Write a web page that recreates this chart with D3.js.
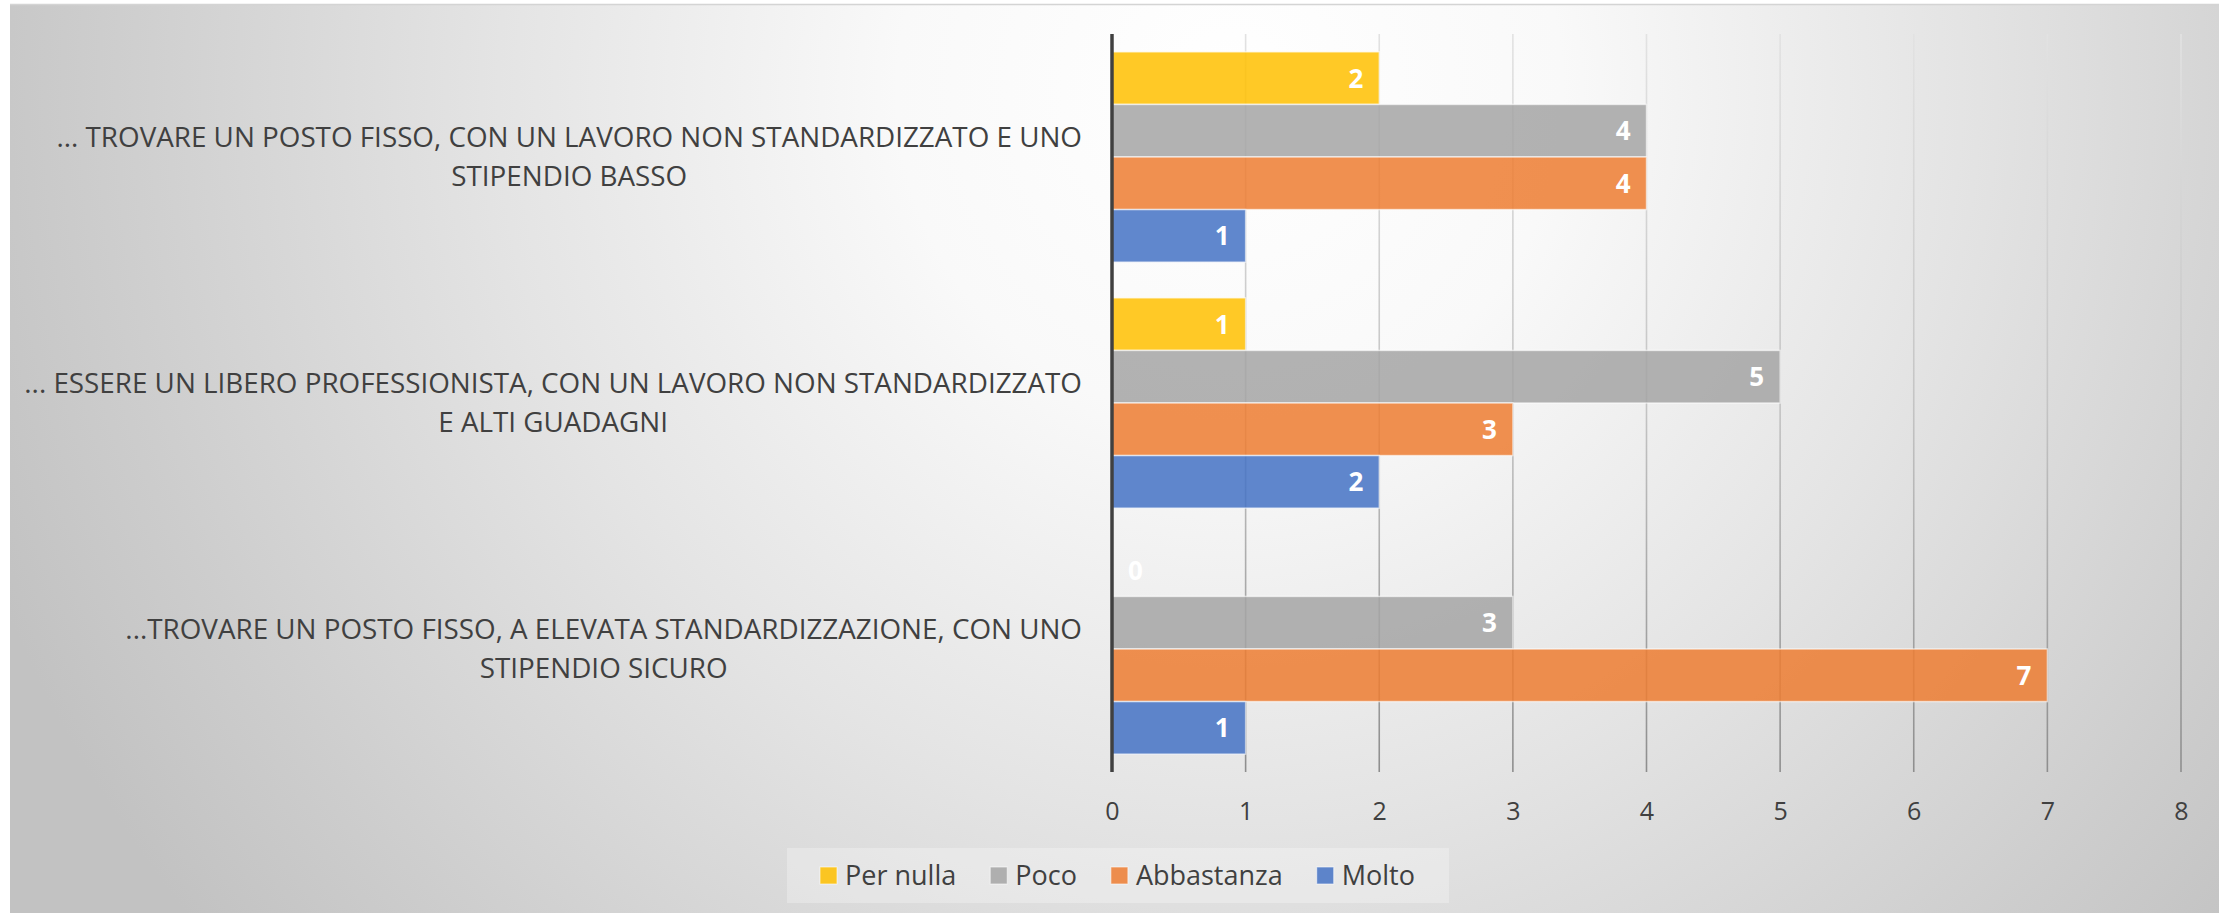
<!DOCTYPE html>
<html><head><meta charset="utf-8">
<script src="https://cdn.jsdelivr.net/npm/d3@7"></script>
<style>html,body{margin:0;padding:0;background:#fff;} svg{display:block;}</style>
</head><body>
<svg id="chart" width="2231" height="913"></svg>
<script>
// ---- data ----
const categories = [
  "... TROVARE UN POSTO FISSO, CON UN LAVORO NON STANDARDIZZATO E UNO\nSTIPENDIO BASSO",
  "... ESSERE UN LIBERO PROFESSIONISTA, CON UN LAVORO NON STANDARDIZZATO\nE ALTI GUADAGNI",
  "...TROVARE UN POSTO FISSO, A ELEVATA STANDARDIZZAZIONE, CON UNO\nSTIPENDIO SICURO"
];
const seriesNames = ["Per nulla", "Poco", "Abbastanza", "Molto"];
const perNulla   = [2, 1, 0];
const poco       = [4, 5, 3];
const abbastanza = [4, 3, 7];
const molto      = [1, 2, 1];
const seriesColors = ["#FFC000", "#A5A5A5", "#ED7D31", "#4472C4"];
const xTicks = [0, 1, 2, 3, 4, 5, 6, 7, 8];

const seriesValues = [perNulla, poco, abbastanza, molto];
const rows = [];
categories.forEach((c, ci) => seriesNames.forEach((s, si) => rows.push({cat: c, ser: s, si, v: seriesValues[si][ci]})));

// ---- layout ----
const W = 2231, H = 913;
const plot = {left: 1112, right: 2181, top: 34, bottom: 772};
const svg = d3.select("#chart");
const defs = svg.append("defs");

const bg = defs.append("radialGradient").attr("id", "bg")
  .attr("gradientUnits", "userSpaceOnUse").attr("cx", 1230).attr("cy", 90).attr("r", 1330);
[[0, "#ffffff"], [0.25, "#f9f9f9"], [0.55, "#e4e4e4"], [0.85, "#cdcdcd"], [1, "#c2c2c2"]]
  .forEach(([o, c]) => bg.append("stop").attr("offset", o).attr("stop-color", c));

const gg = defs.append("linearGradient").attr("id", "grid")
  .attr("gradientUnits", "userSpaceOnUse").attr("x1", 0).attr("x2", 0).attr("y1", plot.top).attr("y2", plot.bottom);
[[0, "#e2e2e2"], [0.5, "#c4c4c4"], [1, "#8e8e8e"]]
  .forEach(([o, c]) => gg.append("stop").attr("offset", o).attr("stop-color", c));

svg.append("rect").attr("x", 10).attr("y", 4).attr("width", 2209).attr("height", H - 4).attr("fill", "url(#bg)");
svg.append("line").attr("x1", 10).attr("x2", 2219).attr("y1", 4.5).attr("y2", 4.5).attr("stroke", "#d4d4d4").attr("stroke-width", 1.5);

const x = d3.scaleLinear().domain([0, 8]).range([plot.left, plot.right]);
const y0 = d3.scaleBand().domain(categories).range([plot.top, plot.bottom]);
const y1 = d3.scaleBand().domain(seriesNames).range([0, y0.bandwidth()]).paddingOuter(0.34).paddingInner(0);
const color = d3.scaleOrdinal().domain(seriesNames).range(seriesColors);

// gridlines
svg.append("g").selectAll("line").data(xTicks.filter(d => d > 0)).join("line")
  .attr("x1", d => x(d)).attr("x2", d => x(d)).attr("y1", plot.top).attr("y2", plot.bottom)
  .attr("stroke", "url(#grid)").attr("stroke-width", 1.6);

// bars
svg.append("g").selectAll("rect").data(rows).join("rect")
  .attr("x", x(0)).attr("y", d => y0(d.cat) + y1(d.ser))
  .attr("width", d => x(d.v) - x(0)).attr("height", y1.bandwidth())
  .attr("fill", d => color(d.ser)).attr("fill-opacity", 0.85)
  .attr("stroke", "#ffffff").attr("stroke-opacity", 0.6).attr("stroke-width", 1.5);

// data labels
svg.append("g").selectAll("text").data(rows).join("text")
  .attr("x", d => d.v > 0 ? x(d.v) - 16 : x(0) + 16)
  .attr("y", d => y0(d.cat) + y1(d.ser) + y1.bandwidth() / 2)
  .attr("dy", "0.36em")
  .attr("text-anchor", d => d.v > 0 ? "end" : "start")
  .attr("font-family", "'Open Sans', sans-serif").attr("font-weight", 700).attr("font-size", 26)
  .attr("fill", "#ffffff").text(d => d.v);

// value axis line
svg.append("line").attr("x1", x(0)).attr("x2", x(0)).attr("y1", plot.top).attr("y2", plot.bottom)
  .attr("stroke", "#404040").attr("stroke-width", 3.5);

// x axis labels
const xAxis = svg.append("g").attr("transform", `translate(0,${plot.bottom})`)
  .call(d3.axisBottom(x).tickValues(xTicks).tickSize(0).tickPadding(30).tickFormat(d3.format("d")));
xAxis.select(".domain").remove();
xAxis.selectAll("text").attr("font-family", "'Open Sans', sans-serif").attr("font-size", 25).attr("fill", "#404040");

// category labels (centered block, right-aligned to the axis gap)
const catFont = 27.8, lineGap = 39, labelRight = 1082;
const catG = svg.append("g").attr("font-family", "'Open Sans', sans-serif").attr("font-size", catFont).attr("fill", "#404040");
categories.forEach(c => {
  const lines = c.split("\n");
  const cy = y0(c) + y0.bandwidth() / 2;
  const t = catG.append("text").attr("text-anchor", "middle");
  lines.forEach((ln, i) => {
    t.append("tspan").attr("y", cy + (i - (lines.length - 1) / 2) * lineGap).attr("dy", "0.357em").text(ln);
  });
  let maxW = 0;
  t.selectAll("tspan").each(function() { maxW = Math.max(maxW, this.getComputedTextLength()); });
  t.selectAll("tspan").attr("x", labelRight - maxW / 2);
});

// legend
const lg = svg.append("g");
lg.append("rect").attr("x", 787).attr("y", 848).attr("width", 662).attr("height", 55)
  .attr("fill", "#ffffff").attr("fill-opacity", 0.28);
let lx = 820;
seriesNames.forEach(s => {
  lg.append("rect").attr("x", lx).attr("y", 867).attr("width", 17).attr("height", 17)
    .attr("fill", color(s)).attr("fill-opacity", 0.85).attr("stroke", "#fff").attr("stroke-opacity", 0.6);
  const t = lg.append("text").attr("x", lx + 25).attr("y", 875.5).attr("dy", "0.36em")
    .attr("font-family", "'Open Sans', sans-serif").attr("font-size", 27).attr("fill", "#404040").text(s);
  lx += 25 + t.node().getComputedTextLength() + 34;
});
</script>
</body></html>
